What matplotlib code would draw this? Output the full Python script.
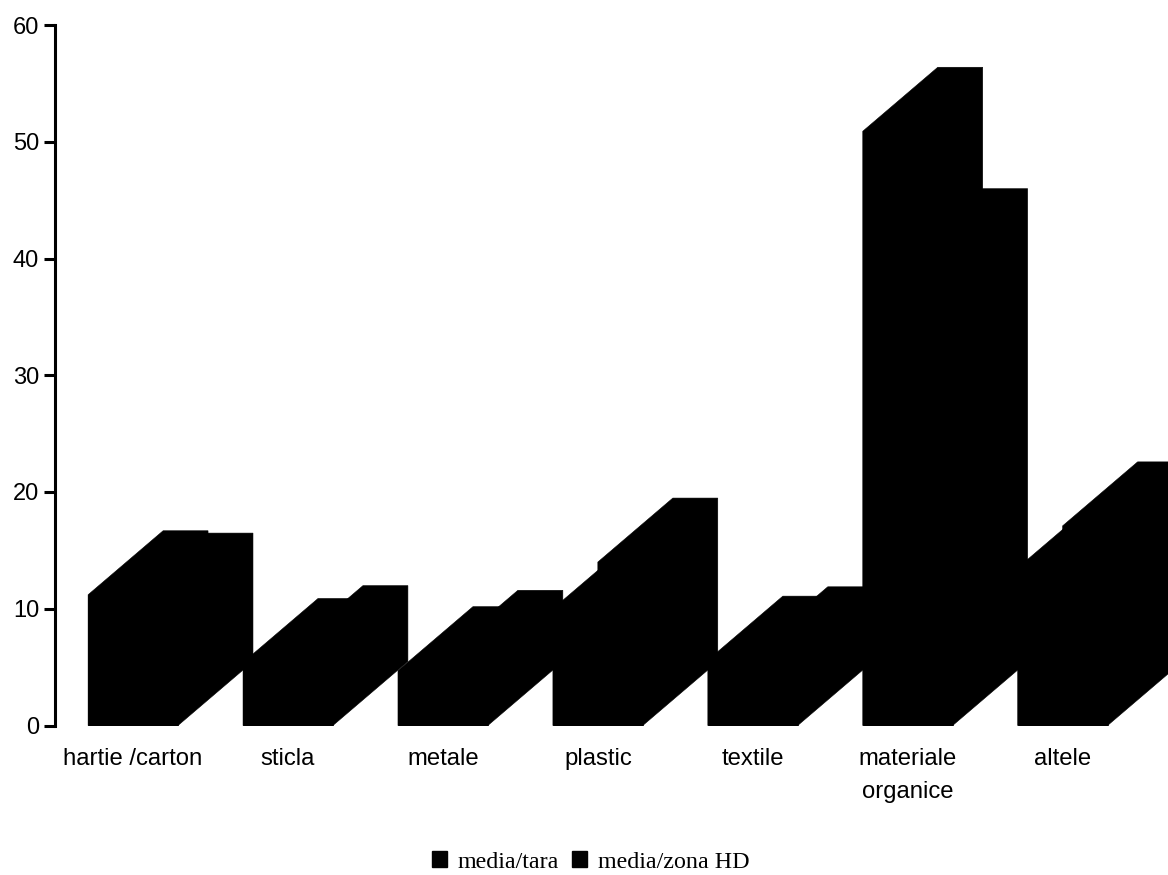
import matplotlib
matplotlib.use("Agg")
import matplotlib.pyplot as plt
from matplotlib.patches import Patch

categories = ["hartie /carton", "sticla", "metale", "plastic", "textile",
              "materiale\norganice", "altele"]
media_tara = [11.2, 5.4, 4.7, 10.0, 5.6, 50.9, 13.5]
media_zona_hd = [11.0, 6.5, 6.1, 14.0, 6.4, 40.5, 17.1]
series_labels = ["media/tara", "media/zona HD"]
y_ticks = [0, 10, 20, 30, 40, 50, 60]

BAR_WIDTH = 0.29
DEPTH_X = 0.484
DEPTH_Y = 5.48

W, H = 1168, 875
fig = plt.figure(figsize=(W / 100, H / 100), dpi=100, facecolor="white")
ax = fig.add_axes([54.5 / W, (H - 725.5) / H, (W - 54.5) / W, 700.5 / H])
ax.set_xlim(-0.507, 6.68)
ax.set_ylim(0, 60)


def draw_bar3d(left, value):
    """Oblique bar: the full silhouette with the front face laid over it."""
    right = left + BAR_WIDTH
    ax.fill([left, right, right + DEPTH_X, right + DEPTH_X, left + DEPTH_X, left],
            [0, 0, DEPTH_Y, value + DEPTH_Y, value + DEPTH_Y, value],
            facecolor="black", edgecolor="black", linewidth=0.4)
    ax.bar(left, value, width=BAR_WIDTH, align="edge", color="black",
           edgecolor="black", linewidth=0.4)


for i, (a, b) in enumerate(zip(media_tara, media_zona_hd)):
    draw_bar3d(i - BAR_WIDTH, a)
    draw_bar3d(i, b)

for side in ("top", "right", "bottom"):
    ax.spines[side].set_visible(False)
ax.spines["left"].set_linewidth(2.2)
ax.spines["left"].set_color("black")

ax.set_yticks(y_ticks)
ax.tick_params(axis="y", length=8, width=2.2, pad=3, labelsize=17)
ax.set_xticks(range(len(categories)))
ax.set_xticklabels(categories, linespacing=1.6)
ax.tick_params(axis="x", length=0, pad=16.5, labelsize=17.2)
for lab in ax.get_xticklabels() + ax.get_yticklabels():
    lab.set_family("Liberation Sans")

handles = [Patch(facecolor="black", edgecolor="black", label=s) for s in series_labels]
fig.legend(handles=handles, loc="center", bbox_to_anchor=(590.5 / W, (H - 862) / H),
           ncol=2, frameon=False, handlelength=0.62, handleheight=0.62,
           handletextpad=0.45, columnspacing=0.55, borderpad=0,
           prop={"family": "Liberation Serif", "size": 17.3})

fig.savefig("out.png", dpi=100, facecolor="white")
